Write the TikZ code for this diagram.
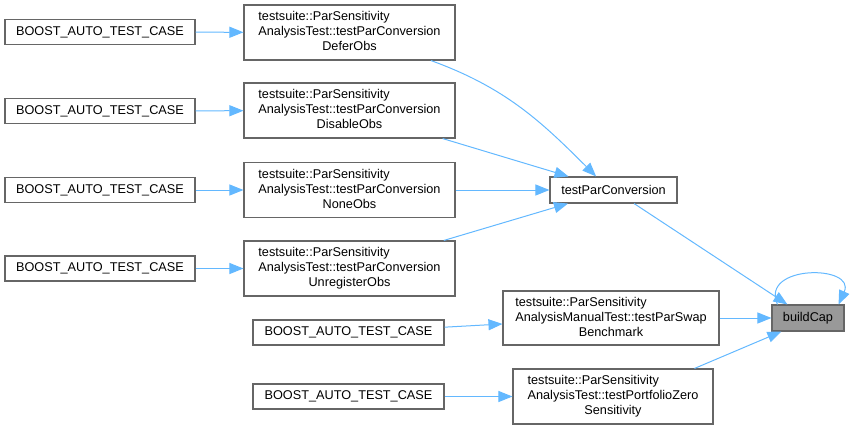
\documentclass[tikz,border=0pt]{standalone}
\usepackage{fontspec}
\setmainfont{Liberation Sans}
\usepackage{tikz}
\usetikzlibrary{arrows.meta,positioning,calc}
\definecolor{edgeblue}{RGB}{99,184,255}
\definecolor{boxgray}{RGB}{102,102,102}
\definecolor{hlgray}{RGB}{153,153,153}
\newcommand{\doxfont}{\fontsize{12.7bp}{15bp}\selectfont}
\newcommand{\fnthree}[3]{\begin{tabular}{@{}l@{}}#1\\#2\\\multicolumn{1}{@{}c@{}}{#3}\end{tabular}}
\tikzset{
  fbox/.style={draw=boxgray, fill=white, line width=1.1bp, font=\doxfont, inner sep=0pt,
    minimum height=25bp},
  tbox/.style={fbox, minimum height=55bp},
  hbox/.style={fbox, fill=hlgray, minimum height=26bp},
  carr/.style={-{Triangle[length=14bp,width=11bp]}, edgeblue, line width=1bp},
}

\begin{document}
\begin{tikzpicture}[x=1bp,y=1bp]
  \useasboundingbox (0,0) rectangle (850,429);
  % callers of the par conversion tests
  \node[fbox, minimum width=190bp] (b1) at (100,397) {BOOST\_AUTO\_TEST\_CASE};
  \node[fbox, minimum width=190bp] (b2) at (100,318) {BOOST\_AUTO\_TEST\_CASE};
  \node[fbox, minimum width=190bp] (b3) at (100,239) {BOOST\_AUTO\_TEST\_CASE};
  \node[fbox, minimum width=190bp] (b4) at (100,160.5) {BOOST\_AUTO\_TEST\_CASE};
  \node[fbox, minimum width=191bp] (b5) at (348.5,96.5) {BOOST\_AUTO\_TEST\_CASE};
  \node[fbox, minimum width=191bp] (b6) at (348.5,32.5) {BOOST\_AUTO\_TEST\_CASE};
  % test functions
  \node[tbox, minimum width=211bp] (defer) at (349.5,396.5)
    {\fnthree{testsuite::ParSensitivity}{AnalysisTest::testParConversion}{DeferObs}};
  \node[tbox, minimum width=211bp] (disable) at (349.5,318.5)
    {\fnthree{testsuite::ParSensitivity}{AnalysisTest::testParConversion}{DisableObs}};
  \node[tbox, minimum width=211bp] (none) at (349.5,239)
    {\fnthree{testsuite::ParSensitivity}{AnalysisTest::testParConversion}{NoneObs}};
  \node[tbox, minimum width=211bp] (unreg) at (349.5,160.5)
    {\fnthree{testsuite::ParSensitivity}{AnalysisTest::testParConversion}{UnregisterObs}};
  \node[tbox, minimum width=216bp, minimum height=54bp] (swap) at (611,111)
    {\fnthree{testsuite::ParSensitivity}{AnalysisManualTest::testParSwap}{Benchmark}};
  \node[tbox, minimum width=200bp] (zero) at (613,32.5)
    {\fnthree{testsuite::ParSensitivity}{AnalysisTest::testPortfolioZero}{Sensitivity}};
  \node[fbox, minimum width=127bp, minimum height=26bp] (tpc) at (613.5,239) {testParConversion};
  \node[hbox, minimum width=72bp] (bcap) at (808,111) {buildCap};

  \draw[carr] (b1) -- (defer);
  \draw[carr] (b2) -- (disable);
  \draw[carr] (b3) -- (none);
  \draw[carr] (b4) -- (unreg);
  \draw[carr] (b5) -- (swap);
  \draw[carr] (b6) -- (zero);
  \draw[carr] (defer.-19) to[out=-20,in=135] (tpc.142);
  \draw[carr] (disable) -- (tpc);
  \draw[carr] (none) -- (tpc);
  \draw[carr] (unreg) -- (tpc);
  \draw[carr] (tpc) -- (bcap);
  \draw[carr] (swap) -- (bcap);
  \draw[carr] (zero.19) -- (bcap.-153);
  \draw[carr] ([xshift=6bp]bcap.north west) .. controls +(-18,40) and +(18,40) .. ([xshift=-6bp]bcap.north east);
\end{tikzpicture}
\end{document}
